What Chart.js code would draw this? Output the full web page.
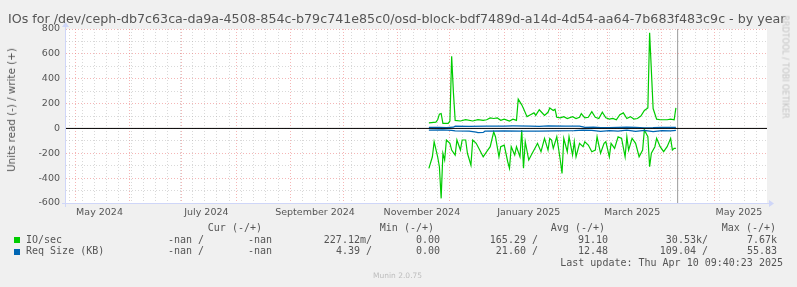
<!DOCTYPE html>
<html><head><meta charset="utf-8">
<script src="https://cdn.jsdelivr.net/npm/chart.js@4.4.0/dist/chart.umd.min.js"></script>
<style>
html,body{margin:0;padding:0;background:#f0f0f0;}
#wrap{position:relative;width:797px;height:287px;overflow:hidden;font-family:"DejaVu Sans",sans-serif;color:#555;}
canvas{position:absolute;left:0;top:0;}
.t{position:absolute;white-space:pre;}
.m{position:absolute;white-space:pre;font-family:"DejaVu Sans Mono",monospace;font-size:10px;line-height:12px;color:#555;text-align:right;}
.sq{position:absolute;width:6px;height:6px;}
</style></head><body>
<div id="wrap">
<canvas id="c" width="797" height="287"></canvas>
<div id="title" class="t" style="left:8px;top:13px;font-size:12px;line-height:12px;color:#555">IOs for /dev/ceph-db7c63ca-da9a-4508-854c-b79c741e85c0/osd-block-bdf7489d-a14d-4d54-aa64-7b683f483c9c - by year</div>
<div class="t" style="left:11px;top:110px;font-size:10.3px;line-height:12px;color:#555;transform:translate(-50%,-50%) rotate(-90deg);">Units read (-) / write (+)</div>
<div class="t" style="left:785px;top:67px;font-size:8px;line-height:9px;color:#c4c4c4;transform:translate(-50%,-50%) rotate(90deg);">RRDTOOL / TOBI OETIKER</div>
<div id="legend"></div>
<div class="t" style="left:373px;top:271px;font-size:7.5px;line-height:9px;color:#bdbdbd">Munin 2.0.75</div>
</div>
<script>
// ---- axis / time data (days since 2024-05-01) ----
const X_MIN = -5.14, X_MAX = 395.0;
const Y_MIN = -600, Y_MAX = 800;
const monthStarts = ['2024-05-01','2024-06-01','2024-07-01','2024-08-01','2024-09-01','2024-10-01','2024-11-01','2024-12-01','2025-01-01','2025-02-01','2025-03-01','2025-04-01','2025-05-01'];
const labelDates = ['2024-05-15','2024-07-15','2024-09-15','2024-11-15','2025-01-15','2025-03-15','2025-05-15'];
const labelTexts = ['May 2024','July 2024','September 2024','November 2024','January 2025','March 2025','May 2025'];
const nowDate = '2025-04-10';

// ---- series: IO/sec ----
const ioWriteDays = [202,206,207,208,209,210,213,214,215,216,217,220,223,227,230,233,235,237,239,241,243,245,248,250,252,253,255,256,258,260,262,263,265,267,268,270,271,273,274,275,277,279,281,284,286,288,289,291,293,295,297,299,301,303,305,307,309,311,313,315,317,319,321,323,325,327,328,330,332,334,336,338,340,342,343];
const ioWriteValues = [45,50,70,115,120,40,40,60,580,290,65,60,70,60,70,65,70,85,80,85,65,75,60,75,65,235,190,160,95,110,125,105,150,120,105,130,165,145,155,90,85,95,80,95,80,90,120,85,90,135,90,80,130,85,75,80,70,110,125,80,95,75,80,100,145,165,770,160,75,70,70,70,75,70,165];
const ioReadDays = [202,204,205,207,208,209,210,211,212,214,215,217,218,220,221,223,224,226,227,229,231,233,235,237,239,240,242,243,245,247,248,249,251,252,254,255,256,257,259,261,263,264,266,268,270,271,272,273,275,277,278,279,281,282,284,285,286,288,290,291,293,295,297,298,300,302,303,305,306,308,310,312,314,315,316,318,320,322,324,325,327,328,329,331,332,334,336,338,340,341,342,343];
const ioReadValues = [321,228,107,228,308,563,200,254,93,120,174,214,93,174,93,93,200,295,93,120,174,228,187,147,27,67,228,147,134,268,321,147,214,147,228,13,321,107,254,200,147,120,187,80,174,80,93,160,67,254,362,80,187,67,214,107,228,120,147,107,134,187,174,67,200,120,107,228,120,160,67,80,228,67,174,80,120,228,174,13,67,308,200,147,80,147,187,147,80,174,160,160];

// ---- series: Req Size (KB) ----
const reqWriteDays = [202,208,212,216,217,225,235,245,250,260,265,270,280,288,290,291,296,300,305,310,315,320,325,330,335,340,343];
const reqWriteValues = [8,9,7,10,18,17,19,19,20,19,16,20,19,18,12,8,10,7,6,9,11,8,5,6,9,8,8];
const reqReadDays = [202,210,215,217,225,229,230,233,234,245,255,265,275,285,290,295,300,305,310,315,320,325,330,335,340,343];
const reqReadValues = [14,12,16,20,22,30,33,32,22,20,22,21,20,18,14,16,24,18,22,14,24,16,26,18,20,16];

// ---- legend table ----
const legendHeaders = ['Cur (-/+)','Min (-/+)','Avg (-/+)','Max (-/+)'];
const legendRows = [
  {name:'IO/sec', color:'#00CC00', cells:['-nan /','-nan','227.12m/','0.00','165.29 /','91.10','30.53k/','7.67k']},
  {name:'Req Size (KB)', color:'#0066B3', cells:['-nan /','-nan','4.39 /','0.00','21.60 /','12.48','109.04 /','55.83']}
];
const lastUpdate = 'Last update: Thu Apr 10 09:40:23 2025';

// ---- helpers ----
const EPOCH = Date.UTC(2024,4,1);
const toDay = s => { const [y,m,d]=s.split('-').map(Number); return (Date.UTC(y,m-1,d)-EPOCH)/86400000; };
const monthDays = monthStarts.map(toDay);
const labelDays = labelDates.map(toDay);
const nowDay = toDay(nowDate);
const weekDays = [];
for (let d = -3; d <= X_MAX; d += 7) weekDays.push(d); // Sundays
const gridDays = Array.from(new Set(weekDays.concat(monthDays))).sort((a,b)=>a-b);
const isMonth = v => monthDays.some(m => Math.abs(m - v) < 0.01);
const pts = (days, vals, sign) => days.map((d,i)=>({x:d, y:sign*vals[i]}));

const RED = 'rgba(235,110,110,0.5)';
const GRAY = 'rgba(170,170,170,0.45)';
const AXIS = '#CFD6F8';

// ---- legend DOM ----
(function(){
  const L = document.getElementById('legend');
  const hdrRight = [262,434,605,776];
  legendHeaders.forEach((h,i)=>{ const e=document.createElement('div'); e.className='m'; e.textContent=h; e.style.right=(797-hdrRight[i])+'px'; e.style.top='221.5px'; L.appendChild(e); });
  const cellRight = [204,272,372,440,538,608,708,777];
  const rowTop = [233.5,244.5];
  const sqTop = [237,248.5];
  legendRows.forEach((r,ri)=>{
    const s=document.createElement('div'); s.className='sq'; s.style.left='14px'; s.style.top=sqTop[ri]+'px'; s.style.background=r.color; L.appendChild(s);
    const n=document.createElement('div'); n.className='m'; n.style.textAlign='left'; n.style.left='26px'; n.style.top=rowTop[ri]+'px'; n.textContent=r.name; L.appendChild(n);
    r.cells.forEach((c,ci)=>{ const e=document.createElement('div'); e.className='m'; e.textContent=c; e.style.right=(797-cellRight[ci])+'px'; e.style.top=rowTop[ri]+'px'; L.appendChild(e); });
  });
  const lu=document.createElement('div'); lu.className='m'; lu.textContent=lastUpdate; lu.style.right=(797-783)+'px'; lu.style.top='256.5px'; L.appendChild(lu);
  // fit title width
  const t=document.getElementById('title');
  const cx=document.createElement('canvas').getContext('2d');
  cx.font='12px "DejaVu Sans"';
  const w=cx.measureText(t.textContent).width;
  t.style.fontSize=(12*778/w).toFixed(2)+'px';
})();

const decor = {
  id:'decor',
  beforeDraw(chart){
    const {ctx, chartArea:a} = chart;
    ctx.save(); ctx.fillStyle='#ffffff';
    ctx.fillRect(a.left, a.top, a.right-a.left, a.bottom-a.top);
    ctx.restore();
  },
  afterDraw(chart){
    const {ctx, chartArea:a} = chart;
    ctx.save();
    ctx.strokeStyle=AXIS; ctx.fillStyle=AXIS; ctx.lineWidth=1;
    const by = Math.round(a.bottom)+0.5, lx = Math.round(a.left)-0.5;
    ctx.beginPath(); ctx.moveTo(a.left-4, by); ctx.lineTo(a.right+3, by); ctx.stroke();
    ctx.beginPath(); ctx.moveTo(a.right+2, by-3.5); ctx.lineTo(a.right+7, by); ctx.lineTo(a.right+2, by+3.5); ctx.closePath(); ctx.fill();
    ctx.beginPath(); ctx.moveTo(lx, a.bottom+4); ctx.lineTo(lx, a.top-3); ctx.stroke();
    ctx.beginPath(); ctx.moveTo(lx-3.5, a.top-2); ctx.lineTo(lx, a.top-7); ctx.lineTo(lx+3.5, a.top-2); ctx.closePath(); ctx.fill();
    ctx.restore();
  }
};

const FONT = {family:'"DejaVu Sans"', size:9.5};
new Chart(document.getElementById('c'), {
  type:'line',
  data:{datasets:[
    {data:[{x:X_MIN,y:0},{x:X_MAX,y:0}], borderColor:'#000000', borderWidth:1, order:0},
    {data:[{x:nowDay,y:Y_MIN},{x:nowDay,y:Y_MAX}], borderColor:'#9a9a9a', borderWidth:1, order:1},
    {data:pts(reqWriteDays,reqWriteValues,1), borderColor:'#0066B3', borderWidth:1.2, order:2},
    {data:pts(reqReadDays,reqReadValues,-1), borderColor:'#0066B3', borderWidth:1.2, order:3},
    {data:pts(ioWriteDays,ioWriteValues,1), borderColor:'#00CC00', borderWidth:1.2, order:4},
    {data:pts(ioReadDays,ioReadValues,-1), borderColor:'#00CC00', borderWidth:1.2, order:5}
  ]},
  options:{
    responsive:false, animation:false, devicePixelRatio:1,
    layout:{padding:{left:0, top:29, right:30, bottom:64}},
    plugins:{legend:{display:false}, tooltip:{enabled:false}},
    elements:{point:{radius:0}, line:{tension:0, fill:false}},
    scales:{
      x:{type:'linear', min:X_MIN, max:X_MAX, position:'bottom',
         afterBuildTicks(s){ s.ticks = gridDays.map(v=>({value:v})); },
         afterFit(s){ s.height = 0; },
         ticks:{display:false, autoSkip:false},
         grid:{drawTicks:false, lineWidth:1, color:c=> isMonth(c.tick.value) ? RED : GRAY},
         border:{display:false, dash:[1,2]}},
      xl:{type:'linear', min:X_MIN, max:X_MAX, position:'bottom',
         afterBuildTicks(s){ s.ticks = labelDays.map(v=>({value:v})); },
         afterFit(s){ s.height = 20; },
         ticks:{autoSkip:false, maxRotation:0, minRotation:0, padding:4, color:'#555', font:FONT,
                callback:(v)=>{ const i = labelDays.findIndex(d=>Math.abs(d-v)<0.01); return i>=0 ? labelTexts[i] : ''; }},
         grid:{display:false, drawTicks:false}, border:{display:false}},
      y:{type:'linear', min:Y_MIN, max:Y_MAX,
         afterFit(s){ s.width = 66; },
         ticks:{stepSize:100, autoSkip:false, padding:6, color:'#555', font:FONT,
                callback:v=> (v % 200 === 0) ? String(v) : ''},
         grid:{drawTicks:false, lineWidth:1, color:c=> (c.tick.value % 200 === 0) ? RED : GRAY},
         border:{display:false, dash:[1,2]}}
    }
  },
  plugins:[decor]
});
</script>
</body></html>
